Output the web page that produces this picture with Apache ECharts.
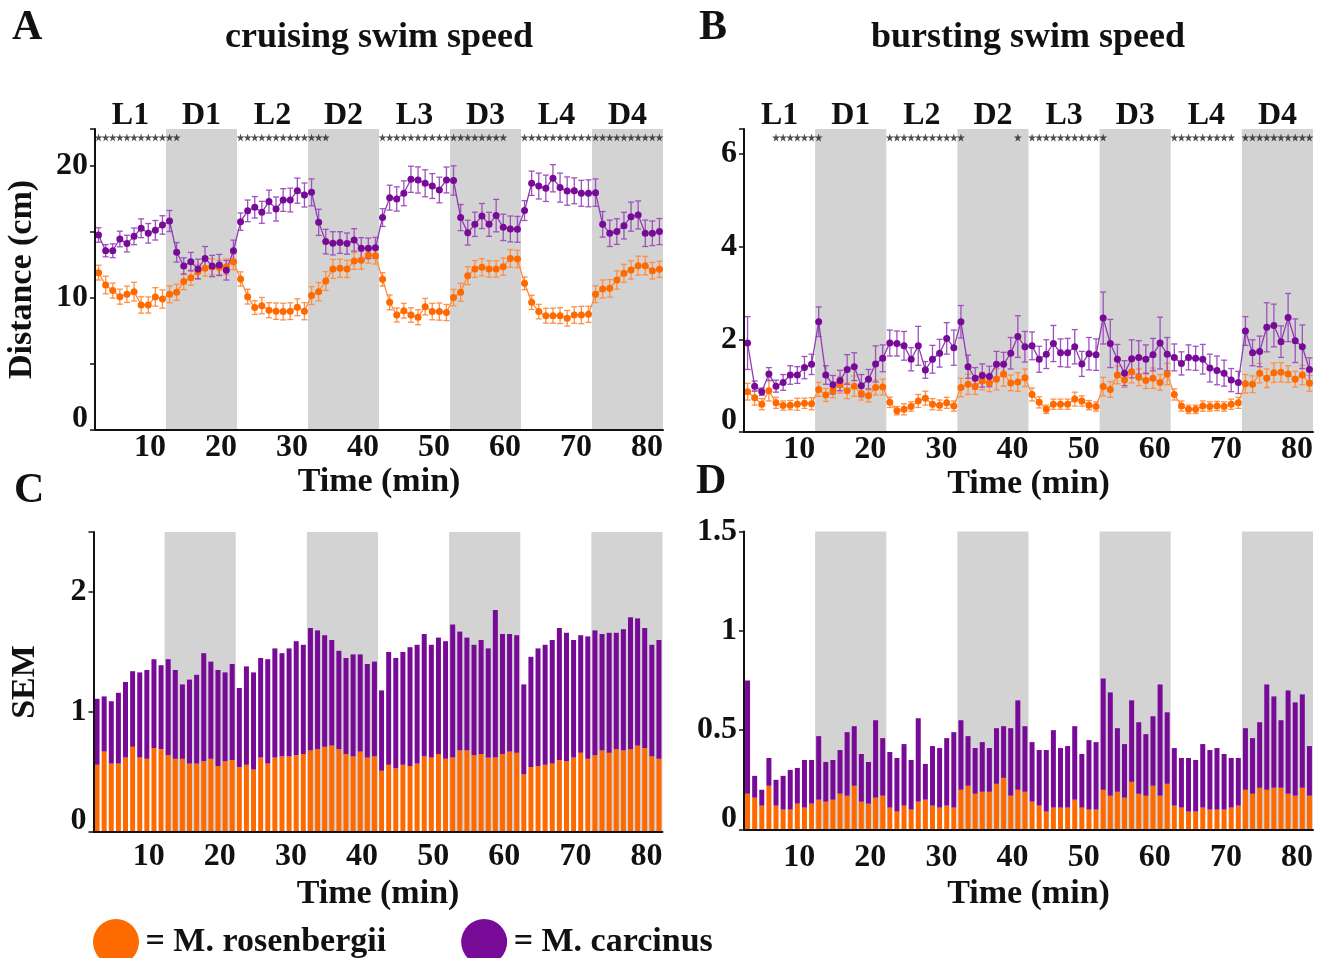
<!DOCTYPE html>
<html>
<head>
<meta charset="utf-8">
<title>swim speed</title>
<script src="https://cdn.jsdelivr.net/npm/echarts@6/dist/echarts.min.js"></script>
<style>
  html, body { margin: 0; padding: 0; background: #fff; }
  #chart { width: 1328px; height: 958px; }
</style>
</head>
<body>
<div id="chart"></div>
<script>
// minute bins 1..80, light/dark phases of 10 min each
const MINUTES = Array.from({ length: 80 }, (_, i) => i + 1)
const PHASES = ['L1', 'D1', 'L2', 'D2', 'L3', 'D3', 'L4', 'D4']
const DARK_PHASES = [[10, 20], [30, 40], [50, 60], [70, 80]]

// A: cruising swim speed, distance (cm)
const A_ROS = [
  11.92, 10.98, 10.56, 10.10, 10.28, 10.48, 9.47, 9.47, 10.08, 9.92,
  10.28, 10.43, 11.24, 11.54, 11.99, 12.25, 12.35, 12.30, 12.37, 12.75,
  11.44, 10.10, 9.27, 9.42, 9.07, 9.00, 8.97, 9.00, 9.30, 9.00,
  10.18, 10.48, 11.29, 12.20, 12.25, 12.20, 12.80, 12.85, 13.26, 13.20,
  11.41, 9.67, 8.71, 9.04, 8.71, 8.54, 9.34, 8.97, 8.97, 8.90,
  10.03, 10.43, 11.69, 12.20, 12.33, 12.20, 12.20, 12.37, 13.00, 12.95,
  11.11, 9.67, 8.97, 8.66, 8.66, 8.66, 8.46, 8.71, 8.71, 8.76,
  10.28, 10.68, 10.73, 11.36, 11.87, 12.12, 12.45, 12.45, 12.07, 12.17
]
const A_CAR = [
  14.77, 13.58, 13.58, 14.47, 14.12, 14.67, 15.28, 14.90, 15.13, 15.53,
  15.83, 13.46, 12.42, 12.75, 12.20, 13.00, 12.42, 12.50, 12.10, 13.58,
  15.78, 16.60, 16.87, 16.49, 17.30, 16.74, 17.42, 17.42, 18.13, 17.80,
  18.00, 15.73, 14.27, 14.14, 14.20, 14.12, 14.40, 13.76, 13.76, 13.80,
  16.09, 17.60, 17.50, 17.93, 18.99, 18.94, 18.69, 18.48, 18.18, 18.94,
  18.90, 16.09, 14.95, 15.58, 16.21, 15.58, 16.24, 15.35, 15.23, 15.20,
  16.62, 18.69, 18.48, 18.31, 19.07, 18.36, 18.10, 18.12, 17.93, 17.93,
  17.98, 15.58, 14.90, 15.03, 15.48, 16.16, 16.29, 14.90, 14.90, 15.03
]
// minutes marked with a significance star
const A_SIG = [1, 2, 3, 4, 5, 6, 7, 8, 9, 10, 11, 12,
  21, 22, 23, 24, 25, 26, 27, 28, 29, 30, 31, 32, 33,
  41, 42, 43, 44, 45, 46, 47, 48, 49, 50, 51, 52, 53, 54, 55, 56, 57, 58,
  61, 62, 63, 64, 65, 66, 67, 68, 69, 70, 71, 72, 73, 74, 75, 76, 77, 78, 79, 80]

// B: bursting swim speed
const B_ROS = [
  0.87, 0.74, 0.60, 0.89, 0.63, 0.57, 0.58, 0.60, 0.62, 0.61,
  0.92, 0.80, 0.89, 1.02, 0.89, 0.99, 0.83, 0.78, 0.96, 0.97,
  0.64, 0.46, 0.49, 0.55, 0.67, 0.73, 0.60, 0.58, 0.63, 0.56,
  0.96, 1.03, 0.99, 1.10, 1.06, 1.14, 1.25, 1.06, 1.08, 1.17,
  0.81, 0.64, 0.49, 0.60, 0.60, 0.60, 0.71, 0.67, 0.58, 0.55,
  0.98, 0.92, 1.23, 1.12, 1.30, 1.18, 1.11, 1.16, 1.07, 1.25,
  0.81, 0.56, 0.49, 0.49, 0.56, 0.55, 0.56, 0.55, 0.60, 0.63,
  1.04, 1.03, 1.27, 1.16, 1.28, 1.29, 1.25, 1.14, 1.23, 1.05
]
const B_CAR = [
  1.92, 0.99, 0.87, 1.25, 0.99, 1.07, 1.23, 1.23, 1.39, 1.46,
  2.38, 1.23, 1.02, 1.11, 1.35, 1.41, 1.00, 1.14, 1.47, 1.59,
  1.92, 1.91, 1.86, 1.57, 1.86, 1.34, 1.57, 1.70, 2.02, 1.82,
  2.38, 1.41, 1.16, 1.22, 1.20, 1.46, 1.46, 1.70, 2.06, 1.84,
  1.86, 1.57, 1.68, 1.91, 1.71, 1.71, 1.84, 1.47, 1.69, 1.67,
  2.46, 1.91, 1.57, 1.27, 1.58, 1.61, 1.57, 1.67, 1.92, 1.68,
  1.61, 1.48, 1.61, 1.59, 1.57, 1.38, 1.33, 1.27, 1.12, 1.07,
  2.18, 1.71, 1.74, 2.26, 2.30, 1.95, 2.47, 1.97, 1.84, 1.35
]
const B_SIG = [5, 6, 7, 8, 9, 10, 11,
  21, 22, 23, 24, 25, 26, 27, 28, 29, 30, 31, 39,
  41, 42, 43, 44, 45, 46, 47, 48, 49, 50, 51,
  61, 62, 63, 64, 65, 66, 67, 68, 69,
  71, 72, 73, 74, 75, 76, 77, 78, 79, 80]

// C: SEM of cruising speed (stacked: rosenbergii below, carcinus on top)
const C_ROS = [
  0.56, 0.67, 0.57, 0.57, 0.62, 0.71, 0.62, 0.61, 0.70, 0.69,
  0.64, 0.61, 0.61, 0.57, 0.57, 0.59, 0.61, 0.55, 0.59, 0.60,
  0.54, 0.56, 0.52, 0.62, 0.57, 0.62, 0.63, 0.63, 0.64, 0.65,
  0.68, 0.69, 0.71, 0.72, 0.69, 0.65, 0.63, 0.67, 0.62, 0.63,
  0.51, 0.56, 0.53, 0.56, 0.55, 0.57, 0.63, 0.62, 0.65, 0.61,
  0.62, 0.68, 0.68, 0.64, 0.65, 0.62, 0.62, 0.65, 0.67, 0.66,
  0.48, 0.54, 0.55, 0.56, 0.57, 0.60, 0.59, 0.62, 0.66, 0.61,
  0.64, 0.68, 0.66, 0.69, 0.68, 0.69, 0.72, 0.70, 0.63, 0.61
]
const C_CAR = [
  0.55, 0.46, 0.52, 0.59, 0.63, 0.63, 0.71, 0.74, 0.74, 0.70,
  0.80, 0.74, 0.62, 0.70, 0.74, 0.90, 0.81, 0.80, 0.74, 0.80,
  0.66, 0.82, 0.81, 0.83, 0.87, 0.91, 0.86, 0.90, 0.95, 0.91,
  1.02, 0.99, 0.93, 0.88, 0.82, 0.80, 0.85, 0.81, 0.78, 0.79,
  0.67, 0.94, 0.92, 0.94, 0.99, 0.99, 1.02, 0.94, 0.97, 0.98,
  1.11, 0.99, 0.94, 0.92, 0.95, 0.91, 1.23, 1.00, 0.98, 0.98,
  0.75, 0.92, 0.98, 1.00, 1.03, 1.10, 1.07, 0.98, 0.98, 1.02,
  1.04, 0.97, 1.00, 0.97, 1.01, 1.10, 1.06, 1.00, 0.93, 0.99
]

// D: SEM of bursting speed
const D_ROS = [
  0.18, 0.16, 0.12, 0.22, 0.12, 0.10, 0.10, 0.13, 0.11, 0.13,
  0.15, 0.14, 0.15, 0.18, 0.17, 0.22, 0.14, 0.13, 0.16, 0.17,
  0.11, 0.09, 0.12, 0.10, 0.14, 0.15, 0.12, 0.11, 0.12, 0.11,
  0.20, 0.22, 0.18, 0.19, 0.19, 0.23, 0.26, 0.17, 0.20, 0.19,
  0.14, 0.12, 0.09, 0.11, 0.11, 0.11, 0.15, 0.11, 0.10, 0.10,
  0.20, 0.17, 0.19, 0.16, 0.24, 0.18, 0.17, 0.22, 0.17, 0.23,
  0.12, 0.11, 0.09, 0.09, 0.11, 0.10, 0.10, 0.10, 0.11, 0.12,
  0.20, 0.18, 0.21, 0.20, 0.21, 0.21, 0.18, 0.17, 0.21, 0.17
]
const D_CAR = [
  0.57, 0.11, 0.08, 0.14, 0.13, 0.17, 0.20, 0.18, 0.24, 0.22,
  0.32, 0.20, 0.20, 0.22, 0.32, 0.30, 0.24, 0.21, 0.39, 0.29,
  0.28, 0.27, 0.31, 0.25, 0.42, 0.18, 0.30, 0.30, 0.34, 0.38,
  0.35, 0.25, 0.23, 0.25, 0.22, 0.28, 0.26, 0.34, 0.45, 0.33,
  0.30, 0.28, 0.31, 0.39, 0.30, 0.31, 0.37, 0.27, 0.35, 0.34,
  0.56, 0.52, 0.32, 0.27, 0.41, 0.36, 0.31, 0.35, 0.56, 0.36,
  0.29, 0.25, 0.27, 0.26, 0.32, 0.30, 0.31, 0.28, 0.25, 0.24,
  0.31, 0.28, 0.33, 0.53, 0.46, 0.34, 0.52, 0.47, 0.47, 0.25
]

const ROS = 'M. rosenbergii'
const CAR = 'M. carcinus'
const ORANGE = '#ff6a00'
const PURPLE = '#780a98'
const BAND = '#d3d3d3'
const INK = '#111'
const FONT = '"Liberation Serif", "DejaVu Serif", serif'

const txt = (size) => ({ fontFamily: FONT, fontWeight: 'bold', fontSize: size, color: INK })
const binCentre = (i) => MINUTES[i] - 0.5

const xAxis = []
const yAxis = []
const series = []

// builds the axes of one panel, returns their indexes
function addAxes(g, cfg) {
  const xi = xAxis.length
  xAxis.push({
    type: 'value', gridIndex: g, min: 0, max: 80, interval: 10, z: 10,
    axisLine: { lineStyle: { color: INK, width: 2 } },
    axisTick: { show: false },
    splitLine: { show: false },
    axisLabel: Object.assign(txt(32), { align: 'right', margin: cfg.xMargin, showMinLabel: false }),
    name: 'Time (min)', nameLocation: 'middle', nameGap: cfg.xNameGap,
    nameTextStyle: txt(34)
  })
  // one tick per minute, at the bin centre (bars sit on this axis too)
  const ti = xAxis.length
  xAxis.push({
    type: 'category', gridIndex: g, data: MINUTES, boundaryGap: true, z: 10,
    axisLine: { show: false },
    axisLabel: { show: false, interval: 0 },
    axisTick: { inside: true, length: 5, alignWithLabel: true, interval: 0, lineStyle: { color: INK, width: 1.5 } }
  })
  if (cfg.phases) {
    xAxis.push({
      type: 'category', gridIndex: g, position: 'top', data: PHASES, boundaryGap: true,
      axisLine: { show: false }, axisTick: { show: false },
      axisLabel: Object.assign(txt(32), { margin: -3, interval: 0 })
    })
  }
  const yi = yAxis.length
  yAxis.push({
    type: 'value', gridIndex: g, min: 0, max: cfg.yMax, interval: cfg.yStep, z: 10,
    axisLine: { show: true, lineStyle: { color: INK, width: 2 } },
    axisTick: { show: true, length: 5, lineStyle: { color: INK, width: 1.5 } },
    splitLine: { show: false },
    axisLabel: Object.assign(txt(32), {
      margin: 7,
      formatter: (v) => {
        if (v === 0) return '{z|0}'
        return cfg.yLabels.indexOf(v) >= 0 ? String(v) : ''
      },
      rich: { z: Object.assign(txt(32), { padding: [0, 0, 22, 0] }) }
    }),
    name: cfg.yName, nameLocation: 'middle', nameRotate: 90, nameGap: cfg.yNameGap,
    nameTextStyle: txt(34)
  })
  let si = null
  if (cfg.phases) {
    si = yAxis.length
    yAxis.push({ type: 'value', gridIndex: g, min: 0, max: 1, show: false })
  }
  return { xi, ti, yi, si }
}

// grey background for the dark phases
function bandSeries(ax) {
  return {
    type: 'custom', xAxisIndex: ax.xi, yAxisIndex: ax.yi, silent: true, z: 1,
    data: DARK_PHASES.map(([a, b]) => [a, b, 0]),
    encode: { x: [0, 1], y: 2 },
    renderItem: (params, api) => {
      const cs = params.coordSys
      const x0 = api.coord([api.value(0), 0])[0]
      const x1 = api.coord([api.value(1), 0])[0]
      return {
        type: 'rect',
        shape: { x: x0, y: cs.y, width: x1 - x0, height: cs.height },
        style: { fill: BAND }
      }
    }
  }
}

function errorBars(ax, means, sems, color) {
  return {
    type: 'custom', xAxisIndex: ax.xi, yAxisIndex: ax.yi, silent: true,
    data: means.map((m, i) => [binCentre(i), m - sems[i], m + sems[i]]),
    encode: { x: 0, y: [1, 2] },
    renderItem: (params, api) => {
      const lo = api.coord([api.value(0), api.value(1)])
      const hi = api.coord([api.value(0), api.value(2)])
      const w = 3
      const st = { stroke: color, lineWidth: 1.3 }
      return {
        type: 'group',
        children: [
          { type: 'line', shape: { x1: lo[0], y1: lo[1], x2: hi[0], y2: hi[1] }, style: st },
          { type: 'line', shape: { x1: lo[0] - w, y1: lo[1], x2: lo[0] + w, y2: lo[1] }, style: st },
          { type: 'line', shape: { x1: hi[0] - w, y1: hi[1], x2: hi[0] + w, y2: hi[1] }, style: st }
        ]
      }
    }
  }
}

function meanLine(ax, name, means, color, lineColor) {
  return {
    type: 'line', name, xAxisIndex: ax.xi, yAxisIndex: ax.yi, silent: true,
    data: means.map((m, i) => [binCentre(i), m]),
    symbol: 'circle', symbolSize: 7,
    itemStyle: { color },
    lineStyle: { color: lineColor, width: 1.3 }
  }
}

function stars(ax, minutes) {
  return {
    type: 'scatter', xAxisIndex: ax.xi, yAxisIndex: ax.si, silent: true,
    data: minutes.map((m) => [m - 0.5, 0.972]),
    symbol: 'path://M50,0 L61,35 L98,35 L68,57 L79,91 L50,70 L21,91 L32,57 L2,35 L39,35 Z',
    symbolSize: 8,
    itemStyle: { color: '#222' }
  }
}

function semBars(ax, name, sems, color) {
  return {
    type: 'bar', name, xAxisIndex: ax.ti, yAxisIndex: ax.yi, silent: true,
    stack: 'sem' + ax.yi, barWidth: 5,
    data: sems,
    itemStyle: { color }
  }
}

// panel layout
const grids = [
  { left: 95, top: 129, width: 568, height: 301 },
  { left: 744, top: 129, width: 569, height: 303 },
  { left: 93.5, top: 532, width: 569, height: 300 },
  { left: 744, top: 531.5, width: 569, height: 298 }
]

const axA = addAxes(0, { phases: true, yMax: 22.8, yStep: 5, yLabels: [10, 20], yName: 'Distance (cm)', yNameGap: 56, xMargin: 2, xNameGap: 35 })
const axB = addAxes(1, { phases: true, yMax: 6.54, yStep: 2, yLabels: [2, 4, 6], yName: '', yNameGap: 50, xMargin: 2, xNameGap: 35 })
const axC = addAxes(2, { phases: false, yMax: 2.5, yStep: 1, yLabels: [1, 2], yName: 'SEM', yNameGap: 51, xMargin: 9, xNameGap: 45 })
const axD = addAxes(3, { phases: false, yMax: 1.5, yStep: 0.5, yLabels: [0.5, 1, 1.5], yName: '', yNameGap: 50, xMargin: 12, xNameGap: 48 })

series.push(
  bandSeries(axA),
  errorBars(axA, A_ROS, C_ROS, '#ff8f45'),
  errorBars(axA, A_CAR, C_CAR, '#9d52bd'),
  meanLine(axA, ROS, A_ROS, ORANGE, '#ff8a3d'),
  meanLine(axA, CAR, A_CAR, PURPLE, '#8e3cb0'),
  stars(axA, A_SIG),
  bandSeries(axB),
  errorBars(axB, B_ROS, D_ROS, '#ff8f45'),
  errorBars(axB, B_CAR, D_CAR, '#9d52bd'),
  meanLine(axB, ROS, B_ROS, ORANGE, '#ff8a3d'),
  meanLine(axB, CAR, B_CAR, PURPLE, '#8e3cb0'),
  stars(axB, B_SIG),
  bandSeries(axC),
  semBars(axC, ROS, C_ROS, ORANGE),
  semBars(axC, CAR, C_CAR, PURPLE),
  bandSeries(axD),
  semBars(axD, ROS, D_ROS, ORANGE),
  semBars(axD, CAR, D_CAR, PURPLE)
)

const heading = (text, x, y, size, align) => ({
  type: 'text', x, y, silent: true,
  style: {
    text, fill: INK, fontFamily: FONT, fontWeight: 'bold', fontSize: size,
    align: align || 'left', verticalAlign: 'middle'
  }
})

const chart = echarts.init(document.getElementById('chart'))
chart.setOption({
  animation: false,
  backgroundColor: '#fff',
  grid: grids,
  xAxis,
  yAxis,
  series,
  legend: {
    left: 88, top: 914, itemWidth: 49, itemHeight: 46, itemGap: 75,
    icon: 'circle', selectedMode: false,
    formatter: '= {name}',
    textStyle: txt(34),
    data: [
      { name: ROS, itemStyle: { color: ORANGE } },
      { name: CAR, itemStyle: { color: PURPLE } }
    ]
  },
  graphic: [
    heading('A', 12, 28, 42),
    heading('cruising swim speed', 379, 38, 36, 'center'),
    heading('B', 699, 28, 42),
    heading('bursting swim speed', 1028, 38, 36, 'center'),
    heading('C', 14, 491, 42),
    heading('D', 696, 482, 42)
  ]
})
</script>
</body>
</html>
